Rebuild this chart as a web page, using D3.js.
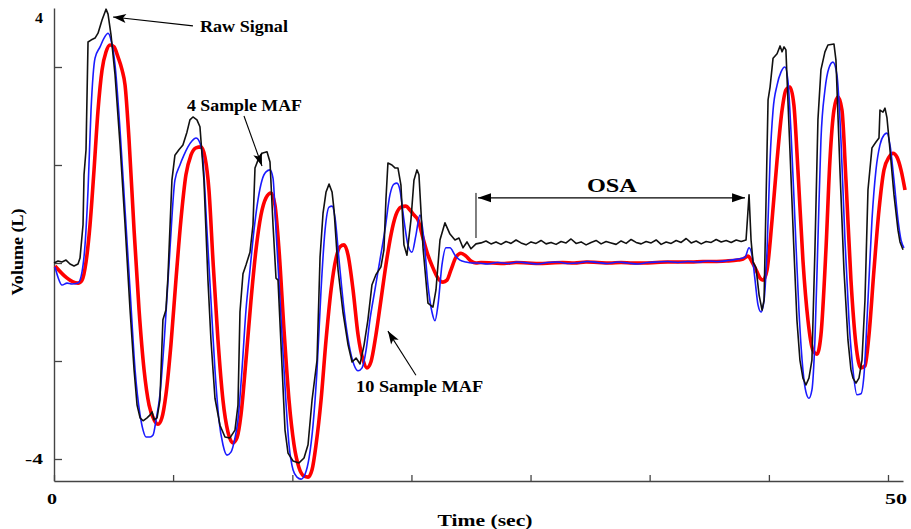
<!DOCTYPE html>
<html>
<head>
<meta charset="utf-8">
<script src="https://cdn.jsdelivr.net/npm/d3@7"></script>
<style>
  body { margin: 0; background: #fff; }
  text { font-family: "Liberation Serif", "Times New Roman", serif; font-weight: bold; fill: #000; }
</style>
</head>
<body>
<svg id="chart" width="911" height="529"></svg>
<script>
// Breathing volume (L) against time (s): raw signal and two moving-average filters
const rawSignal = [
  [0,0],[0.24,0.04],[0.48,0.02],[0.72,0.06],[0.96,-0.02],[1.20,-0.06],[1.44,-0.02],[1.56,0.10],[1.74,0.78],[1.80,1.80],
  [1.92,2.31],[2.04,4.51],[2.22,4.55],[2.46,4.59],[2.64,4.69],[2.88,4.96],[3.12,5.18],[3.24,5.08],[3.42,4.65],[3.66,3.84],
  [3.96,2.41],[4.26,0.78],[4.56,-0.96],[4.80,-2.18],[4.98,-2.90],[5.16,-3.16],[5.34,-3.22],[5.58,-3.16],[5.76,-3.10],[5.88,-3.04],
  [6.00,-3.20],[6.18,-3.16],[6.35,-2.80],[6.53,-1.16],[6.71,-0.96],[6.83,-0.29],[7.07,1.69],[7.25,2.20],[7.49,2.31],[7.73,2.41],
  [7.97,2.67],[8.15,2.92],[8.33,2.98],[8.57,2.92],[8.75,2.78],[8.99,1.69],[9.23,-0.35],[9.41,-1.57],[9.65,-2.76],[9.95,-3.31],
  [10.25,-3.55],[10.55,-3.57],[10.85,-3.41],[11.03,-2.90],[11.15,-1.00],[11.33,-0.22],[11.51,-0.04],[11.75,0.22],[11.93,0.78],[12.05,1.94],
  [12.23,2.10],[12.47,2.24],[12.77,2.27],[12.95,2.06],[13.13,0.78],[13.31,-0.31],[13.43,-0.35],[13.61,-1.67],[13.85,-3.41],[14.03,-3.88],
  [14.33,-4.04],[14.69,-4.08],[14.99,-3.98],[15.23,-3.71],[15.47,-2.80],[15.77,-1.98],[15.95,0.12],[16.13,1.02],[16.31,1.45],[16.49,1.61],
  [16.67,1.45],[16.79,1.08],[17.03,-0.14],[17.33,-1.02],[17.63,-1.67],[17.87,-2.02],[18.11,-1.94],[18.35,-2.06],[18.59,-1.67],[18.82,-1.16],
  [19.06,-0.45],[19.30,-0.24],[19.60,-0.08],[19.78,0.27],[19.90,1.29],[20.02,2.04],[20.26,2.00],[20.44,1.94],[20.62,1.94],[20.80,1.59],
  [20.98,0.37],[21.16,0.16],[21.40,0.88],[21.58,1.69],[21.76,1.90],[21.88,1.80],[22.12,0.33],[22.42,-0.82],[22.72,-0.90],[22.90,-0.55],
  [23.14,0.47],[23.44,0.82],[23.74,0.59],[24.04,0.47],[24.28,0.51],[24.52,0.31],[24.76,0.43],[25.00,0.29],[25.30,0.39],
  [25.6,0.41],[25.9,0.45],[26.2,0.39],[26.5,0.43],[26.8,0.38],[27.1,0.44],[27.4,0.40],[27.7,0.47],[28.0,0.41],[28.3,0.37],
  [28.6,0.43],[28.9,0.40],[29.2,0.46],[29.5,0.39],[29.8,0.42],[30.1,0.38],[30.4,0.44],[30.7,0.41],[31.0,0.49],[31.3,0.40],
  [31.6,0.43],[31.9,0.37],[32.2,0.42],[32.5,0.46],[32.8,0.39],[33.1,0.44],[33.4,0.41],[33.7,0.38],[34.0,0.45],[34.3,0.40],
  [34.6,0.48],[34.9,0.42],[35.2,0.39],[35.5,0.44],[35.8,0.41],[36.1,0.47],[36.4,0.38],[36.7,0.43],[37.0,0.40],[37.3,0.46],
  [37.6,0.42],[37.9,0.50],[38.2,0.41],[38.5,0.45],[38.8,0.39],[39.1,0.44],[39.4,0.42],[39.7,0.48],[40.0,0.43],[40.3,0.46],
  [40.6,0.42],[40.9,0.47],[41.2,0.44],
  [41.49,0.47],[41.67,1.39],[41.79,0.47],[41.91,0.02],[42.09,-0.10],[42.27,-0.65],[42.45,-0.96],[42.57,-0.76],[42.69,1.29],[42.81,3.33],
  [42.93,3.59],[43.11,4.18],[43.35,4.27],[43.53,4.43],[43.65,4.31],[43.77,4.41],[43.88,4.35],[44.12,2.31],[44.36,0.27],[44.54,-1.16],
  [44.72,-1.98],[44.90,-2.35],[45.08,-2.49],[45.26,-2.35],[45.44,-1.98],[45.62,0.27],[45.80,2.92],[45.98,3.94],[46.22,4.31],[46.40,4.45],
  [46.76,4.47],[46.88,4.14],[47.12,1.90],[47.36,-0.14],[47.60,-1.57],[47.78,-2.18],[47.90,-2.35],[48.08,-2.45],[48.26,-2.35],[48.44,-1.98],
  [48.62,-0.76],[48.80,1.49],[49.04,2.35],[49.28,2.47],[49.46,2.55],[49.52,3.12],[49.70,3.08],[49.82,3.16],[49.94,2.96],[50.12,2.31],
  [50.36,1.39],[50.60,0.67],[50.72,0.43],[50.90,0.27]
];

const maf4 = [
  [0.06,-0.08],[0.24,-0.29],[0.48,-0.45],[0.78,-0.41],[1.08,-0.43],[1.44,-0.41],[1.68,-0.18],[1.86,0.37],[2.04,1.49],[2.22,3.12],
  [2.46,4.18],[2.76,4.41],[3.00,4.59],[3.24,4.69],[3.42,4.55],[3.66,4.04],[3.96,2.71],[4.26,1.08],[4.56,-0.55],[4.86,-2.18],
  [5.16,-3.10],[5.34,-3.41],[5.52,-3.55],[5.76,-3.55],[5.94,-3.51],[6.12,-3.20],[6.35,-2.69],[6.65,-1.37],[6.95,0.27],[7.25,1.69],
  [7.55,2.00],[7.79,2.20],[8.03,2.37],[8.27,2.49],[8.51,2.55],[8.75,2.45],[8.93,2.10],[9.17,0.67],[9.41,-0.76],[9.65,-2.18],
  [9.89,-3.20],[10.13,-3.71],[10.37,-3.92],[10.61,-3.86],[10.85,-3.57],[11.03,-3.20],[11.27,-2.18],[11.51,-0.96],[11.75,-0.14],[11.99,0.67],
  [12.23,1.29],[12.47,1.69],[12.71,1.86],[12.95,1.90],[13.13,1.73],[13.31,0.67],[13.55,-0.76],[13.79,-2.18],[14.09,-3.71],[14.33,-4.22],
  [14.57,-4.37],[14.81,-4.41],[15.05,-4.31],[15.29,-3.98],[15.53,-3.31],[15.77,-2.18],[16.01,-0.55],[16.25,0.67],[16.49,1.14],[16.67,1.16],
  [16.85,0.92],[17.09,0.06],[17.39,-0.96],[17.69,-1.67],[17.99,-2.08],[18.23,-2.20],[18.47,-2.14],[18.71,-1.78],[18.94,-1.16],[19.24,-0.55],
  [19.54,0.06],[19.84,0.67],[20.14,1.39],[20.38,1.61],[20.56,1.63],[20.74,1.49],[20.98,0.88],[21.22,0.37],[21.46,0.22],[21.70,0.57],
  [21.94,0.98],[22.18,0.47],[22.42,-0.45],[22.66,-1.00],[22.84,-1.18],[23.02,-0.86],[23.26,-0.04],[23.50,0.31],[23.74,0.31],[24.04,0.16],
  [24.34,0.06],[24.70,0.02],[25.06,0.00],
  [25.4,0.00],[26.0,-0.02],[26.6,0.01],[27.2,-0.01],[27.8,0.02],[28.4,0.00],[29.0,-0.02],[29.6,0.01],[30.2,0.02],[30.8,-0.01],
  [31.4,0.00],[32.0,0.03],[32.6,0.01],[33.2,-0.01],[33.8,0.02],[34.4,0.00],[35.0,-0.02],[35.6,0.01],[36.2,0.02],[36.8,0.03],
  [37.4,0.01],[38.0,0.03],[38.6,0.02],[39.2,0.04],[39.8,0.03],[40.4,0.05],[41.0,0.08],
  [41.43,0.12],[41.67,0.31],[41.85,0.16],[42.03,-0.35],[42.21,-0.86],[42.39,-1.00],[42.57,-0.76],[42.75,0.27],[42.93,2.10],[43.11,3.12],
  [43.35,3.63],[43.59,3.90],[43.82,4.00],[44.00,3.73],[44.18,2.71],[44.42,0.88],[44.66,-0.96],[44.90,-2.18],[45.08,-2.63],[45.26,-2.76],
  [45.44,-2.59],[45.62,-1.57],[45.80,0.47],[45.98,2.51],[46.22,3.53],[46.46,3.98],[46.70,4.10],[46.94,3.84],[47.18,2.51],[47.42,0.47],
  [47.66,-1.16],[47.90,-2.18],[48.14,-2.69],[48.38,-2.67],[48.56,-2.29],[48.80,-0.76],[49.04,0.88],[49.28,1.90],[49.52,2.41],[49.76,2.61],
  [49.94,2.65],[50.12,2.41],[50.36,1.69],[50.60,0.88],[50.78,0.47],[50.96,0.31]
];

const maf10 = [
  [0.06,-0.06],[1.44,-0.41],[1.68,-0.35],[1.92,0.02],[2.16,0.78],[2.40,1.90],[2.64,3.12],[2.88,3.94],[3.12,4.31],[3.36,4.45],
  [3.60,4.41],[3.84,4.20],[4.08,3.94],[4.26,3.63],[4.50,2.51],[4.80,0.67],[5.10,-0.96],[5.40,-2.18],[5.70,-2.90],[6.00,-3.20],
  [6.24,-3.29],[6.47,-3.16],[6.71,-2.69],[7.01,-1.67],[7.31,-0.35],[7.61,0.88],[7.91,1.80],[8.21,2.20],[8.51,2.35],[8.81,2.37],
  [9.05,2.16],[9.29,1.49],[9.53,0.06],[9.83,-1.57],[10.13,-2.80],[10.43,-3.45],[10.73,-3.67],[10.97,-3.57],[11.21,-3.10],[11.51,-1.98],
  [11.81,-0.76],[12.11,0.27],[12.41,0.98],[12.71,1.33],[13.01,1.43],[13.25,1.18],[13.49,0.27],[13.79,-1.37],[14.09,-2.80],[14.39,-3.71],
  [14.69,-4.18],[14.99,-4.35],[15.23,-4.37],[15.47,-4.22],[15.71,-3.71],[16.01,-2.80],[16.31,-1.57],[16.61,-0.55],[16.91,0.10],[17.15,0.33],
  [17.39,0.37],[17.63,0.16],[17.93,-0.55],[18.23,-1.47],[18.53,-1.98],[18.76,-2.14],[19.00,-2.02],[19.30,-1.47],[19.60,-0.76],[19.90,-0.04],
  [20.20,0.57],[20.50,0.98],[20.80,1.14],[21.10,1.16],[21.34,1.08],[21.58,0.98],[21.82,0.88],[22.12,0.51],[22.42,0.16],[22.72,-0.10],
  [23.02,-0.31],[23.32,-0.39],[23.56,-0.35],[23.80,-0.14],[24.10,0.12],[24.40,0.20],[24.70,0.14],[25.00,0.04],[25.30,0.00],
  [25.6,0.01],[26.3,0.00],[27.0,-0.01],[27.7,0.01],[28.4,0.00],[29.1,-0.01],[29.8,0.00],[30.5,0.01],[31.2,0.00],[31.9,0.02],
  [32.6,0.01],[33.3,0.00],[34.0,0.01],[34.7,0.00],[35.4,0.00],[36.1,0.01],[36.8,0.02],[37.5,0.02],[38.2,0.02],[38.9,0.03],
  [39.6,0.03],[40.3,0.04],[41.0,0.06],
  [41.31,0.08],[41.61,0.14],[41.85,0.02],[42.09,-0.14],[42.33,-0.31],[42.51,-0.35],[42.75,-0.14],[43.05,0.88],[43.35,2.10],[43.65,3.12],
  [43.88,3.53],[44.12,3.59],[44.36,3.22],[44.60,1.90],[44.90,0.06],[45.20,-1.16],[45.50,-1.78],[45.74,-1.86],[45.98,-1.47],[46.28,0.27],
  [46.52,2.10],[46.76,3.12],[47.00,3.39],[47.24,3.12],[47.48,1.69],[47.78,-0.35],[48.08,-1.67],[48.38,-2.14],[48.62,-2.10],[48.86,-1.47],
  [49.16,-0.14],[49.46,1.08],[49.76,1.90],[50.06,2.16],[50.30,2.24],[50.54,2.16],[50.78,1.90],[51.02,1.49]
];

const xTicks = [0, 7.14, 14.29, 21.43, 28.57, 35.71, 42.86, 50];
const xTickLabels = [{ v: 0, label: "0", dx: -2, w: 10 }, { v: 50, label: "50", dx: 8, w: 22 }];
const yTicks = [-4, -2, 0, 2, 4];
const yTickLabels = [{ v: 5.0, label: "4", w: 8 }, { v: -4, label: "-4", w: 18 }];

const annotations = [
  { text: "Raw Signal",    at: [8.75, 4.71],   w: 88,  from: [8.33, 4.84],  to: [3.54, 5.02] },
  { text: "4 Sample MAF",  at: [7.97, 3.10],   w: 115, from: [11.39, 3.00], to: [12.47, 1.98] },
  { text: "10 Sample MAF", at: [18.11, -2.63], w: 127, from: [21.70, -2.29], to: [20.02, -1.39] }
];
const osa = { text: "OSA", center: [33.45, 1.45], w: 50, level: 1.33, start: 25.42, end: 41.43, markTop: 1.43, markBottom: 0.51 };

const svg = d3.select("#chart");
const x = d3.scaleLinear().domain([0, 50.9]).range([54, 903]);
const y = d3.scaleLinear().domain([-4.449, 5.204]).range([481, 8]);

// Arrowhead markers
const defs = svg.append("defs");
defs.append("marker")
  .attr("id", "head").attr("viewBox", "-14 -6 16 12")
  .attr("refX", 0).attr("refY", 0)
  .attr("markerWidth", 16).attr("markerHeight", 12)
  .attr("markerUnits", "userSpaceOnUse").attr("orient", "auto")
  .append("path").attr("d", "M0,0 L-13,-4.5 L-10,0 L-13,4.5 Z").attr("fill", "#000");
defs.append("marker")
  .attr("id", "solid").attr("viewBox", "-14 -6 16 12")
  .attr("refX", 0).attr("refY", 0)
  .attr("markerWidth", 16).attr("markerHeight", 12)
  .attr("markerUnits", "userSpaceOnUse").attr("orient", "auto-start-reverse")
  .append("path").attr("d", "M0,0 L-13,-4.5 L-13,4.5 Z").attr("fill", "#000");

// Axes with inward ticks
const xAxis = d3.axisBottom(x).tickValues(xTicks).tickSize(-6).tickSizeOuter(0).tickFormat("");
const yAxis = d3.axisLeft(y).tickValues(yTicks).tickSize(-8).tickSizeOuter(0).tickFormat("");
const gx = svg.append("g").attr("transform", "translate(0,481)").call(xAxis);
const gy = svg.append("g").attr("transform", "translate(54,0)").call(yAxis);
[gx, gy].forEach(g => {
  g.select(".domain").attr("stroke", "#444").attr("stroke-width", 1.4);
  g.selectAll(".tick line").attr("stroke", "#444").attr("stroke-width", 1.3);
});

svg.selectAll(".xlab").data(xTickLabels).join("text")
  .attr("x", d => x(d.v) + d.dx).attr("y", 504)
  .attr("text-anchor", "middle").attr("font-size", 15)
  .attr("textLength", d => d.w).attr("lengthAdjust", "spacingAndGlyphs")
  .text(d => d.label);
svg.selectAll(".ylab").data(yTickLabels).join("text")
  .attr("x", 43).attr("y", d => y(d.v) + 5)
  .attr("text-anchor", "end").attr("font-size", 15)
  .attr("textLength", d => d.w).attr("lengthAdjust", "spacingAndGlyphs")
  .text(d => d.label);

// Axis titles
svg.append("text").attr("x", 485).attr("y", 526)
  .attr("text-anchor", "middle").attr("font-size", 17)
  .attr("textLength", 95).attr("lengthAdjust", "spacingAndGlyphs")
  .text("Time (sec)");
svg.append("text").attr("transform", "translate(23,252) rotate(-90)")
  .attr("text-anchor", "middle").attr("font-size", 17)
  .attr("textLength", 87).attr("lengthAdjust", "spacingAndGlyphs")
  .text("Volume (L)");

// Signal traces
const line = d3.line().x(d => x(d[0])).y(d => y(d[1]));
const smooth = d3.line().x(d => x(d[0])).y(d => y(d[1])).curve(d3.curveMonotoneX);
svg.append("path").datum(maf10).attr("d", smooth)
  .attr("fill", "none").attr("stroke", "#ff0000").attr("stroke-width", 3.6).attr("stroke-linejoin", "round");
svg.append("path").datum(maf4).attr("d", smooth)
  .attr("fill", "none").attr("stroke", "#1a1aff").attr("stroke-width", 1.6).attr("stroke-linejoin", "round");
svg.append("path").datum(rawSignal).attr("d", line)
  .attr("fill", "none").attr("stroke", "#111").attr("stroke-width", 1.6).attr("stroke-linejoin", "round");

// Callouts
annotations.forEach(a => {
  svg.append("line")
    .attr("x1", x(a.from[0])).attr("y1", y(a.from[1]))
    .attr("x2", x(a.to[0])).attr("y2", y(a.to[1]))
    .attr("stroke", "#000").attr("stroke-width", 1.1)
    .attr("marker-end", "url(#head)");
  svg.append("text").attr("x", x(a.at[0])).attr("y", y(a.at[1]))
    .attr("font-size", 16)
    .attr("textLength", a.w).attr("lengthAdjust", "spacingAndGlyphs")
    .text(a.text);
});

// Apnea interval bracket
svg.append("line")
  .attr("x1", x(osa.start)).attr("x2", x(osa.end))
  .attr("y1", y(osa.level)).attr("y2", y(osa.level))
  .attr("stroke", "#000").attr("stroke-width", 1.4)
  .attr("marker-start", "url(#solid)").attr("marker-end", "url(#solid)");
svg.append("line")
  .attr("x1", x(osa.start) - 2).attr("x2", x(osa.start) - 2)
  .attr("y1", y(osa.markTop)).attr("y2", y(osa.markBottom))
  .attr("stroke", "#000").attr("stroke-width", 1);
svg.append("text").attr("x", x(osa.center[0])).attr("y", y(osa.center[1]))
  .attr("text-anchor", "middle").attr("font-size", 19)
  .attr("textLength", osa.w).attr("lengthAdjust", "spacingAndGlyphs")
  .text(osa.text);
</script>
</body>
</html>
